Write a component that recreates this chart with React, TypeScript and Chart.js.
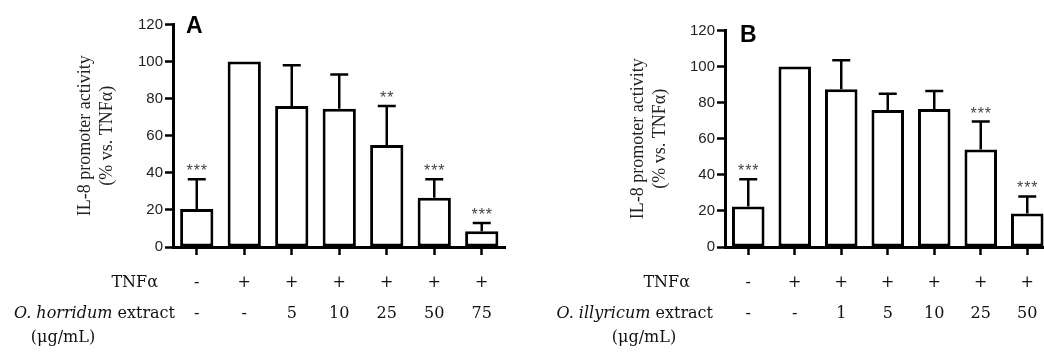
import React, { useEffect, useRef } from 'react';
import { Chart, registerables } from 'chart.js';

Chart.register(...registerables);

// ---------- data ----------
const yTitleLines = ['IL-8 promoter activity', '(% vs. TNFα)'];
const yMin = 0;
const yMax = 120;
const yStep = 20;

const tnfRow = ['-', '+', '+', '+', '+', '+', '+'];
const tnfHeader = 'TNFα';
const unitText = '(μg/mL)';

const labelA = 'A';
const extractA = 'O. horridum';
const doseA = ['-', '-', '5', '10', '25', '50', '75'];
const meanA = [20.5, 100, 76, 74.5, 55, 26.5, 8.5];
const sdA = [16, 0, 22, 18.5, 21, 10, 4.5];
const starsA = ['***', '', '', '', '**', '***', '***'];

const labelB = 'B';
const extractB = 'O. illyricum';
const doseB = ['-', '-', '1', '5', '10', '25', '50'];
const meanB = [22.5, 100, 87.5, 76, 76.5, 54, 18.5];
const sdB = [15, 0, 16, 9, 10, 15.5, 9.5];
const starsB = ['***', '', '', '', '', '***', '***'];

// ---------- layout (positions, not data) ----------
type Panel = {
  label: string;
  extract: string;
  doses: string[];
  means: number[];
  sds: number[];
  stars: string[];
  canvasLeft: number;
  canvasWidth: number;
  chartLeft: number;
  padRight: number;
  padTop: number;
  titlePad: number;
  labelX: number;
  labelBaseline: number;
  tnfRight: number;
  row2Right: number;
  unitCenter: number;
};

const H = 354;
const chartBottom = 247;
const row1Y = 283;
const row2Y = 314;
const row3Y = 338;
const tableFont = 'DejaVu Serif';

const panels: Panel[] = [
  {
    label: labelA, extract: extractA, doses: doseA, means: meanA, sds: sdA, stars: starsA,
    canvasLeft: 0, canvasWidth: 520, chartLeft: 173, padRight: 14.5, padTop: 24.5, titlePad: 73.75,
    labelX: 186, labelBaseline: 33, tnfRight: 158, row2Right: 175, unitCenter: 63,
  },
  {
    label: labelB, extract: extractB, doses: doseB, means: meanB, sds: sdB, stars: starsB,
    canvasLeft: 520, canvasWidth: 540, chartLeft: 205, padRight: 9.5, padTop: 30.5, titlePad: 106.75,
    labelX: 220, labelBaseline: 42, tnfRight: 170, row2Right: 193, unitCenter: 124,
  },
];

function makePlugin(p: Panel) {
  return {
    id: 'panelExtras',
    afterDatasetsDraw(chart: any) {
      const ctx = chart.ctx as CanvasRenderingContext2D;
      const x = chart.scales.x;
      const y = chart.scales.y;
      ctx.save();
      // error bars + significance stars
      p.means.forEach((m, i) => {
        const cx = x.getPixelForValue(i);
        const yBar = y.getPixelForValue(m);
        const yTop = y.getPixelForValue(m + p.sds[i]);
        if (p.sds[i] > 0) {
          ctx.strokeStyle = '#000';
          ctx.lineWidth = 2.5;
          ctx.lineCap = 'butt';
          ctx.beginPath();
          ctx.moveTo(cx, yBar);
          ctx.lineTo(cx, yTop);
          ctx.moveTo(cx - 9, yTop);
          ctx.lineTo(cx + 9, yTop);
          ctx.stroke();
        }
        if (p.stars[i]) {
          ctx.fillStyle = '#444';
          ctx.font = '16px "Liberation Sans", Arial, sans-serif';
          ctx.textAlign = 'center';
          ctx.textBaseline = 'alphabetic';
          (ctx as any).letterSpacing = '1px';
          ctx.fillText(p.stars[i], cx + 0.5, yTop - 3);
          (ctx as any).letterSpacing = '0px';
        }
      });
      ctx.restore();
    },
    afterDraw(chart: any) {
      const ctx = chart.ctx as CanvasRenderingContext2D;
      const x = chart.scales.x;
      ctx.save();
      // panel label
      ctx.fillStyle = '#000';
      ctx.font = 'bold 23px "Liberation Sans", Arial, sans-serif';
      ctx.textAlign = 'left';
      ctx.textBaseline = 'alphabetic';
      ctx.fillText(p.label, p.labelX, p.labelBaseline);

      // table
      ctx.fillStyle = '#111';
      ctx.textBaseline = 'middle';
      ctx.font = `16px "${tableFont}", serif`;
      ctx.textAlign = 'right';
      ctx.fillText(tnfHeader, p.tnfRight, row1Y);

      // row 2 header: italic species + regular "extract"
      const italicFont = `italic 16px "${tableFont}", serif`;
      const regFont = `16px "${tableFont}", serif`;
      const rest = ' extract';
      ctx.font = italicFont;
      const w1 = ctx.measureText(p.extract).width;
      ctx.font = regFont;
      const w2 = ctx.measureText(rest).width;
      const start = p.row2Right - w1 - w2;
      ctx.textAlign = 'left';
      ctx.font = italicFont;
      ctx.fillText(p.extract, start, row2Y);
      ctx.font = regFont;
      ctx.fillText(rest, start + w1, row2Y);

      ctx.textAlign = 'center';
      ctx.fillText(unitText, p.unitCenter, row3Y);

      tnfRow.forEach((t, i) => {
        const cx = x.getPixelForValue(i);
        ctx.fillText(t, cx, row1Y);
        ctx.fillText(p.doses[i], cx, row2Y);
      });
      ctx.restore();
    },
  };
}

function PanelChart({ p }: { p: Panel }) {
  const ref = useRef<HTMLCanvasElement | null>(null);
  useEffect(() => {
    if (!ref.current) return;
    const chart = new Chart(ref.current, {
      type: 'bar',
      data: {
        labels: p.doses.map((_, i) => String(i)),
        datasets: [
          {
            data: p.means,
            backgroundColor: '#fff',
            borderColor: '#000',
            borderWidth: 3,
            borderSkipped: false,
            barPercentage: 0.7,
            categoryPercentage: 1,
          },
        ],
      },
      options: {
        responsive: false,
        animation: false,
        events: [],
        layout: { padding: { left: 0, right: p.padRight, top: p.padTop, bottom: 0 } },
        plugins: { legend: { display: false }, tooltip: { enabled: false }, title: { display: false } },
        scales: {
          x: {
            type: 'category',
            offset: true,
            grid: {
              display: true,
              offset: false,
              drawOnChartArea: false,
              drawTicks: true,
              tickLength: 8,
              tickWidth: 2.5,
              tickColor: '#000',
            },
            border: { display: true, color: '#000', width: 3 },
            ticks: { display: false },
            afterFit: (s: any) => { s.height = H - chartBottom; },
          },
          y: {
            min: yMin,
            max: yMax,
            ticks: {
              stepSize: yStep,
              color: '#222',
              padding: 2,
              font: { family: 'Liberation Sans', size: 15 },
            },
            grid: {
              display: true,
              drawOnChartArea: false,
              drawTicks: true,
              tickLength: 8,
              tickWidth: 2.5,
              tickColor: '#000',
            },
            border: { display: true, color: '#000', width: 3 },
            title: {
              display: true,
              text: yTitleLines,
              color: '#222',
              font: { family: 'Liberation Serif', size: 18, lineHeight: 1.25 },
              padding: { top: p.titlePad, bottom: 0 },
            },
            afterFit: (s: any) => { s.width = p.chartLeft; },
          },
        },
      },
      plugins: [makePlugin(p)],
    } as any);
    return () => chart.destroy();
  }, [p]);
  return (
    <canvas
      ref={ref}
      width={p.canvasWidth}
      height={H}
      style={{ position: 'absolute', left: p.canvasLeft, top: 0, width: p.canvasWidth, height: H }}
    />
  );
}

export default function App() {
  return (
    <div
      style={{
        position: 'fixed',
        left: 0,
        top: 0,
        width: 1044,
        height: H,
        overflow: 'hidden',
        background: '#fff',
      }}
    >
      {panels.map((p) => (
        <PanelChart key={p.label} p={p} />
      ))}
    </div>
  );
}
